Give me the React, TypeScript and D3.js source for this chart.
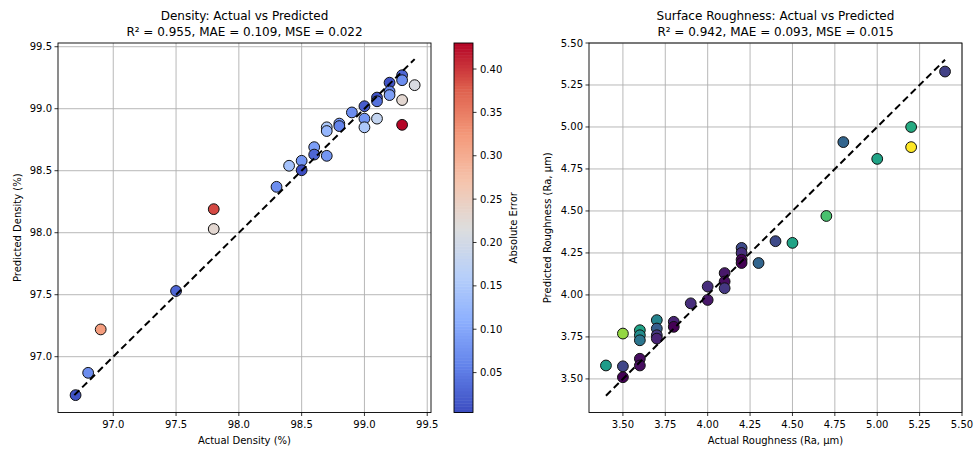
import React from 'react';
import * as d3 from 'd3';

// density model: actual vs predicted (%)
const densityActual = [
  96.7, 96.8, 96.9, 97.5, 97.8, 97.8, 98.3, 98.4, 98.5, 98.5, 98.6, 98.6, 98.7, 98.7, 98.7, 98.8,
  98.8, 98.9, 99.0, 99.0, 99.0, 99.1, 99.1, 99.1, 99.2, 99.2, 99.2, 99.3, 99.3, 99.3, 99.3, 99.4,
];
const densityPred = [
  96.69, 96.87, 97.22, 97.53, 98.19, 98.03, 98.37, 98.54, 98.58, 98.504, 98.69, 98.63, 98.62, 98.85, 98.82, 98.88,
  98.86, 98.97, 99.02, 98.92, 98.85, 98.92, 99.09, 99.06, 99.21, 99.14, 99.11, 99.27, 99.23, 99.07, 98.87, 99.19,
];

// roughness model: actual vs predicted (Ra, µm)
const roughActual = [
  3.4, 3.5, 3.5, 3.5, 3.6, 3.6, 3.6, 3.6, 3.6, 3.7, 3.7, 3.7, 3.7, 3.8, 3.8, 3.9, 4.0,
  4.0, 4.1, 4.1, 4.1, 4.2, 4.2, 4.2, 4.2, 4.3, 4.4, 4.5, 4.7, 4.8, 5.0, 5.2, 5.2, 5.4,
];
const roughPred = [
  3.58, 3.77, 3.575, 3.51, 3.79, 3.76, 3.73, 3.62, 3.58, 3.85, 3.80, 3.76, 3.74, 3.84, 3.81, 3.95, 4.05,
  3.97, 4.13, 4.08, 4.04, 4.28, 4.25, 4.21, 4.19, 4.19, 4.32, 4.31, 4.47, 4.91, 4.81, 5.00, 4.88, 5.33,
];

const densityTicks = [97.0, 97.5, 98.0, 98.5, 99.0, 99.5];
const roughTicks = [3.5, 3.75, 4.0, 4.25, 4.5, 4.75, 5.0, 5.25, 5.5];
const errTicks = [0.05, 0.1, 0.15, 0.2, 0.25, 0.3, 0.35, 0.4];

// matplotlib coolwarm, sampled every 1/8
const coolwarm = d3.piecewise(d3.interpolateRgb, [
  '#3b4cc0', '#6282ea', '#8db0fe', '#b8d0f9', '#dddddd', '#f5c4ad', '#f49a7b', '#de604d', '#b40426',
]);

const FONT = 'DejaVu Sans, sans-serif';
const TOP = 43;
const BOTTOM = 412.5;

type PanelProps = {
  actual: number[];
  pred: number[];
  left: number;
  right: number;
  xDomain: [number, number];
  yDomain: [number, number];
  ticks: number[];
  fmt: string;
  color: (t: number) => string;
  errDomain: [number, number];
  title: string;
  stats: string;
  xLabel: string;
  yLabel: string;
  yLabelX: number;
};

const Panel = (p: PanelProps) => {
  const x = d3.scaleLinear().domain(p.xDomain).range([p.left, p.right]);
  const y = d3.scaleLinear().domain(p.yDomain).range([BOTTOM, TOP]);
  const c = d3.scaleLinear().domain(p.errDomain).range([0, 1]).clamp(true);
  const f = d3.format(p.fmt);
  const lo = Math.min(d3.min(p.actual)!, d3.min(p.pred)!);
  const hi = Math.max(d3.max(p.actual)!, d3.max(p.pred)!);
  const lineLo = Math.max(lo, p.xDomain[0]);
  const lineHi = Math.min(hi, d3.max(p.actual)!);
  const cx = (p.left + p.right) / 2;
  const cy = (TOP + BOTTOM) / 2;

  return (
    <g fontFamily={FONT}>
      {/* grid */}
      {p.ticks.map((t) => (
        <g key={'g' + t} stroke="#b0b0b0" strokeWidth={0.9}>
          <line x1={x(t)} x2={x(t)} y1={TOP} y2={BOTTOM} />
          <line x1={p.left} x2={p.right} y1={y(t)} y2={y(t)} />
        </g>
      ))}
      {p.actual.map((a, i) => (
        <circle
          key={i}
          cx={x(a)}
          cy={y(p.pred[i])}
          r={5.4}
          fill={p.color(c(Math.abs(a - p.pred[i])))}
          stroke="#111"
          strokeWidth={1}
        />
      ))}
      <line
        x1={x(lineLo)}
        y1={y(lineLo)}
        x2={x(lineHi)}
        y2={y(lineHi)}
        stroke="#000"
        strokeWidth={2}
        strokeDasharray="7,4"
      />
      <rect x={p.left} y={TOP} width={p.right - p.left} height={BOTTOM - TOP} fill="none" stroke="#000" strokeWidth={0.9} />
      {/* ticks */}
      {p.ticks.map((t) => (
        <g key={'t' + t} fontSize={10} fill="#000">
          <line x1={x(t)} x2={x(t)} y1={BOTTOM} y2={BOTTOM + 3.5} stroke="#000" strokeWidth={0.8} />
          <text x={x(t)} y={BOTTOM + 15} textAnchor="middle">{f(t)}</text>
          <line x1={p.left - 3.5} x2={p.left} y1={y(t)} y2={y(t)} stroke="#000" strokeWidth={0.8} />
          <text x={p.left - 6} y={y(t)} dy="0.35em" textAnchor="end">{f(t)}</text>
        </g>
      ))}
      <text x={cx} y={444} fontSize={10} textAnchor="middle">{p.xLabel}</text>
      <text transform={`translate(${p.yLabelX},${cy}) rotate(-90)`} fontSize={10} textAnchor="middle" dy="0.35em">
        {p.yLabel}
      </text>
      <text x={cx} y={20} fontSize={12} textAnchor="middle">
        {p.title}
      </text>
      <text x={cx} y={36} fontSize={12} textAnchor="middle">
        {p.stats}
      </text>
    </g>
  );
};

const App = () => {
  const densErr = densityActual.map((a, i) => Math.abs(a - densityPred[i]));
  const roughErr = roughActual.map((a, i) => Math.abs(a - roughPred[i]));
  const errDomain = d3.extent(densErr) as [number, number];

  // colorbar
  const cbX = 454;
  const cbW = 19;
  const cb = d3.scaleLinear().domain(errDomain).range([BOTTOM, TOP]);
  const steps = d3.range(0, 120);

  return (
    <div style={{ position: 'absolute', left: 0, top: 0 }}>
      <svg width={976} height={452} style={{ display: 'block', background: '#fff' }}>
        <Panel
          actual={densityActual}
          pred={densityPred}
          left={58}
          right={431}
          xDomain={[96.56, 99.53]}
          yDomain={[96.55, 99.53]}
          ticks={densityTicks}
          fmt=".1f"
          color={coolwarm}
          errDomain={errDomain}
          title="Density: Actual vs Predicted"
          stats="R² = 0.955, MAE = 0.109, MSE = 0.022"
          xLabel="Actual Density (%)"
          yLabel="Predicted Density (%)"
          yLabelX={17}
        />
        <Panel
          actual={roughActual}
          pred={roughPred}
          left={589}
          right={962}
          xDomain={[3.3, 5.5]}
          yDomain={[3.3, 5.5]}
          ticks={roughTicks}
          fmt=".2f"
          color={d3.interpolateViridis}
          errDomain={d3.extent(roughErr) as [number, number]}
          title="Surface Roughness: Actual vs Predicted"
          stats="R² = 0.942, MAE = 0.093, MSE = 0.015"
          xLabel="Actual Roughness (Ra, μm)"
          yLabel="Predicted Roughness (Ra, μm)"
          yLabelX={547}
        />
        <g fontFamily={FONT}>
          {steps.map((s) => {
            const v0 = errDomain[0] + ((errDomain[1] - errDomain[0]) * s) / steps.length;
            const v1 = errDomain[0] + ((errDomain[1] - errDomain[0]) * (s + 1)) / steps.length;
            return (
              <rect
                key={s}
                x={cbX}
                y={cb(v1)}
                width={cbW}
                height={cb(v0) - cb(v1) + 0.5}
                fill={coolwarm((s + 0.5) / steps.length)}
              />
            );
          })}
          <rect x={cbX} y={TOP} width={cbW} height={BOTTOM - TOP} fill="none" stroke="#000" strokeWidth={0.9} />
          {errTicks.map((t) => (
            <g key={t}>
              <line x1={cbX + cbW} x2={cbX + cbW + 3.5} y1={cb(t)} y2={cb(t)} stroke="#000" strokeWidth={0.8} />
              <text x={cbX + cbW + 7} y={cb(t)} dy="0.35em" fontSize={10}>{d3.format('.2f')(t)}</text>
            </g>
          ))}
          <text transform={`translate(513,${(TOP + BOTTOM) / 2}) rotate(-90)`} fontSize={10} textAnchor="middle" dy="0.35em">
            Absolute Error
          </text>
        </g>
      </svg>
    </div>
  );
};

export default App;
